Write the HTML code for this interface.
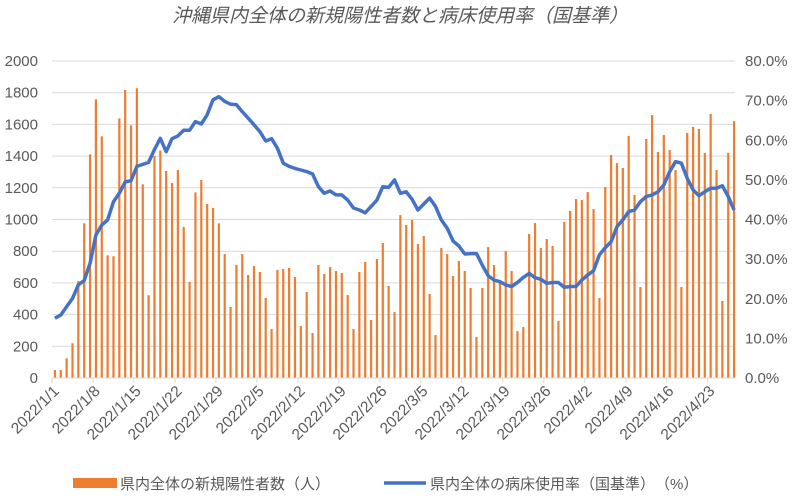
<!DOCTYPE html>
<html><head><meta charset="utf-8">
<style>
html,body{margin:0;padding:0;background:#fff;}
svg{display:block;font-family:"Liberation Sans","Noto Sans CJK JP",sans-serif;}
</style></head>
<body>
<svg id="chart" width="793" height="503" viewBox="0 0 793 503" xmlns="http://www.w3.org/2000/svg">
<text x="400" y="22" text-anchor="middle" font-size="19" fill="#595959" font-style="italic" font-family="'Liberation Sans','Noto Sans CJK JP',sans-serif">沖縄県内全体の新規陽性者数と病床使用率（国基準）</text>
<g id="grid"></g><g id="bars"></g><g id="line"></g><g id="axes"></g>
<g>
<rect x="73" y="478" width="44" height="10" fill="#ED7D31"/>
<text x="120" y="489" font-size="15" fill="#595959">県内全体の新規陽性者数（人）</text>
<line x1="384" y1="483" x2="426" y2="483" stroke="#4472C4" stroke-width="3.5"/>
<text x="430" y="489" font-size="15" fill="#595959">県内全体の病床使用率（国基準）　（%）</text>
</g>
</svg>
<script>
const cases = [50,50,124,219,612,976,1411,1758,1525,774,768,1638,1817,1594,1828,1222,522,1400,1435,1306,1230,1312,953,606,1171,1249,1098,1073,976,782,
448,713,782,650,706,669,505,309,681,688,694,637,328,543,284,713,656,700,675,662,524,309,669,732,366,751,852,581,416,1028,
965,997,845,896,530,271,820,782,643,738,675,568,259,568,826,713,599,801,675,296,322,909,978,820,877,833,360,984,1054,1129,
1123,1173,1066,505,1205,1407,1356,1325,1527,1155,574,1508,1659,1426,1533,1438,1312,574,1546,1584,1571,1420,1666,1312,486,1420,1621];
const beds = [15.1,15.9,18.0,20.1,23.5,24.6,29.0,36.1,38.6,39.9,44.5,46.6,49.5,49.8,53.4,53.9,54.4,57.7,60.5,57.1,60.4,61.1,62.5,62.5,64.7,64.1,66.4,70.2,71.0,69.8,
69.1,69.0,67.2,65.6,63.9,62.2,59.8,60.4,58.0,54.2,53.4,52.9,52.5,52.1,51.5,48.3,46.6,47.2,46.2,46.2,44.9,42.9,42.4,41.7,43.3,44.9,48.3,48.1,50.0,46.6,
47.0,45.1,42.4,43.9,45.4,43.3,39.9,37.8,34.6,33.3,31.3,31.4,31.4,28.5,25.8,24.7,24.3,23.5,23.1,24.1,25.4,26.4,25.3,24.9,23.9,24.1,24.1,22.9,23.1,23.1,
24.7,26.0,27.1,31.1,32.9,34.4,38.2,39.9,42.0,42.4,44.5,45.8,46.2,47.0,48.7,52.1,54.6,54.2,50.4,47.5,46.0,47.0,47.9,47.9,48.5,45.8,42.4];
const leftTicks = [0,200,400,600,800,1000,1200,1400,1600,1800,2000];
const rightTicks = ["0.0%","10.0%","20.0%","30.0%","40.0%","50.0%","60.0%","70.0%","80.0%"];
const xLabels = ["2022/1/1","2022/1/8","2022/1/15","2022/1/22","2022/1/29","2022/2/5","2022/2/12","2022/2/19","2022/2/26","2022/3/5","2022/3/12","2022/3/19","2022/3/26","2022/4/2","2022/4/9","2022/4/16","2022/4/23"];

const NS="http://www.w3.org/2000/svg";
const X0=52, X1=737, Y0=378, Y1=61;
const n=cases.length, cw=(X1-X0)/n;
function xC(i){return X0+(i+0.5)*cw;}
function yL(v){return Y0-(v/2000)*(Y0-Y1);}
function yR(p){return Y0-(p/80)*(Y0-Y1);}
function mk(tag,attrs,parent){const e=document.createElementNS(NS,tag);for(const k in attrs)e.setAttribute(k,attrs[k]);parent.appendChild(e);return e;}
const grid=document.getElementById('grid'),barsG=document.getElementById('bars'),lineG=document.getElementById('line'),axes=document.getElementById('axes');

leftTicks.forEach((v,i)=>{
  const y=yL(v);
  if(v>0){const g=mk('line',{x1:X0,x2:X1-2,y1:y,y2:y,stroke:'#d9d9d9','stroke-width':1},grid);
  
  }
  const t=mk('text',{x:38,y:y+5,'text-anchor':'end','font-size':15,fill:'#595959'},axes);
  t.textContent=v;
  
  
});
rightTicks.forEach((s,i)=>{
  const t=mk('text',{x:745,y:yR(i*10)+5,'font-size':15,fill:'#595959'},axes);
  t.textContent=s;
  
  
});
cases.forEach((v,i)=>{
  const r=mk('rect',{x:xC(i)-1.1,y:yL(v),width:2.2,height:Y0-yL(v),fill:'#ED7D31'},barsG);
  
  
});
const pts=beds.map((p,i)=>xC(i).toFixed(1)+','+yR(p).toFixed(1)).join(' ');
const pl=mk('polyline',{points:pts,fill:'none',stroke:'#4472C4','stroke-width':3.5,'stroke-linejoin':'round'},lineG);


const ax=mk('line',{x1:X0,x2:X1-2,y1:Y0,y2:Y0,stroke:'#d9d9d9','stroke-width':1},axes);


xLabels.forEach((s,k)=>{
  const x=X0+k*7*cw;
  const tk=mk('line',{x1:x,x2:x,y1:Y0,y2:Y0+5,stroke:'#d9d9d9'},axes);
  
  
  const tx=xC(k*7)+5;
  const t=mk('text',{x:tx,y:Y0+14,'text-anchor':'end','font-size':15.5,fill:'#595959',transform:'rotate(-45 '+tx+' '+(Y0+14)+')'},axes);
  t.textContent=s;
  
  
});
</script>
</body></html>
